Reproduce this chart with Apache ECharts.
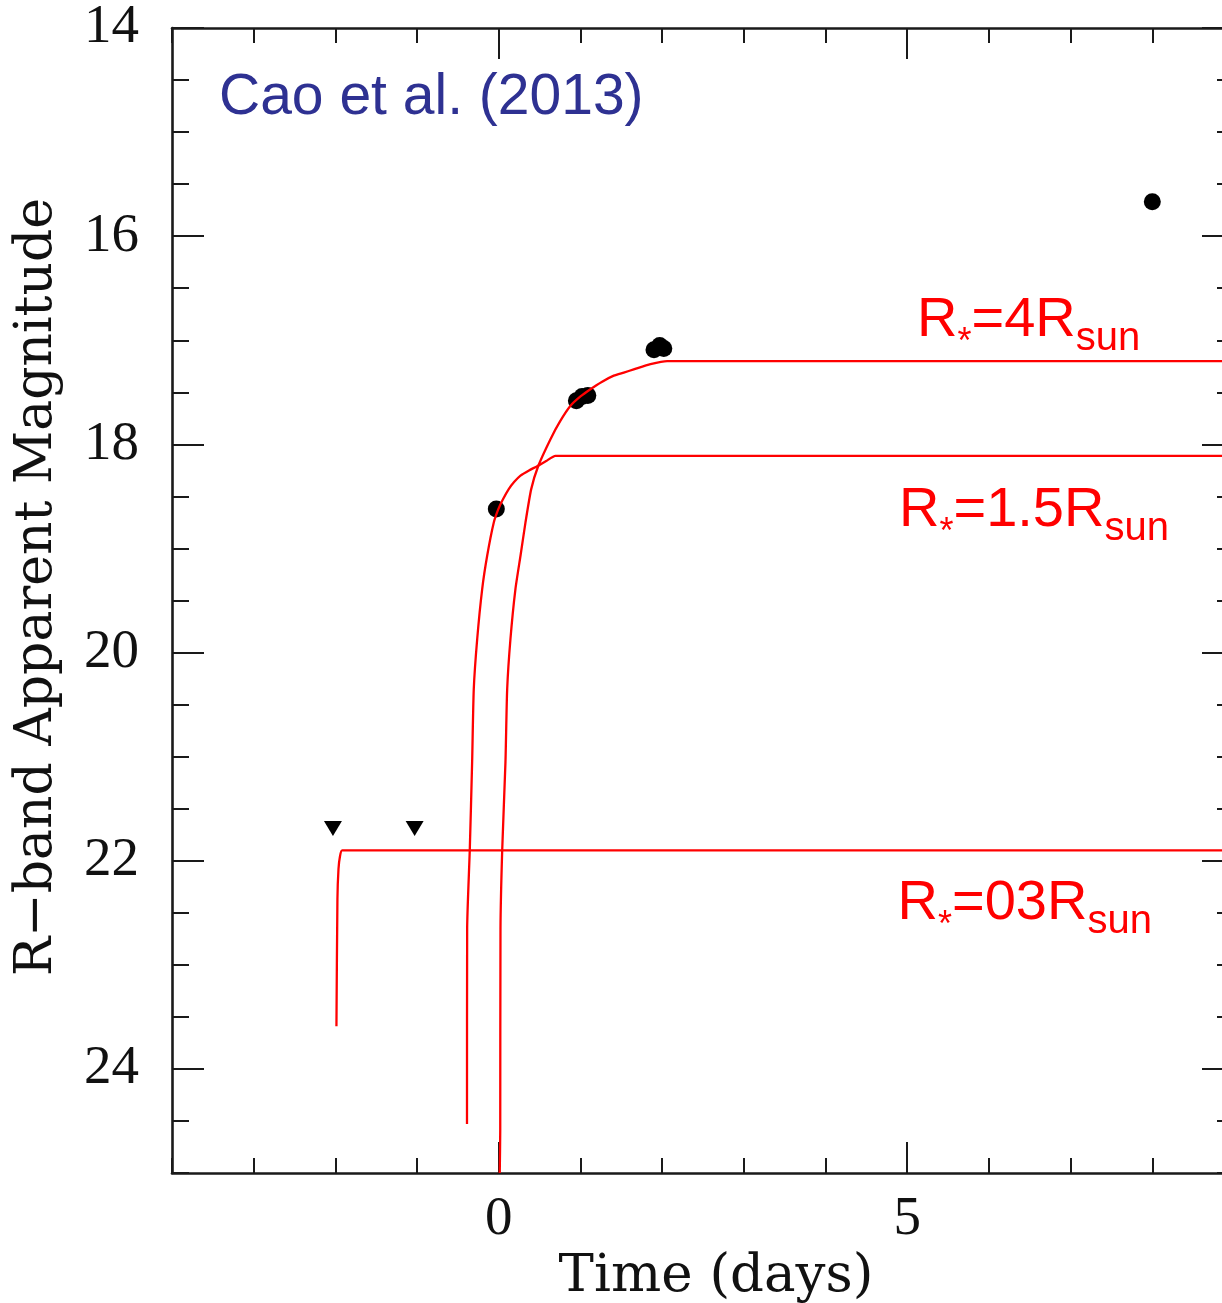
<!DOCTYPE html>
<html><head><meta charset="utf-8">
<script src="https://cdn.jsdelivr.net/npm/echarts@6/dist/echarts.min.js"></script>
<style>html,body{margin:0;padding:0;background:#fff}#c{width:1222px;height:1303px}</style>
</head><body><div id="c"></div>
<script>
// ---- data ----
const obsDays = [-0.03, 0.95, 1.02, 1.09, 1.90, 1.97, 2.02, 8.0];
const obsMag  = [18.62, 17.58, 17.54, 17.53, 17.09, 17.05, 17.08, 15.67];
const ulDays = [-2.03, -1.03];
const ulMag  = [21.69, 21.69];

const m03Days = [-1.987, -1.975, -1.962, -1.944, -1.917, 9];
const m03Mag  = [23.59, 22.37, 22.08, 21.96, 21.90, 21.90];

const m15Days = [-0.389, -0.387, -0.355, -0.326, -0.306, -0.264, -0.203, -0.142, -0.061, -0.004, 0.05, 0.122, 0.19, 0.266, 0.37, 0.470, 0.58, 0.694, 9];
const m15Mag  = [24.53, 22.65, 21.90, 21.05, 20.35, 19.87, 19.39, 19.07, 18.75, 18.62, 18.53, 18.43, 18.36, 18.30, 18.25, 18.21, 18.16, 18.11, 18.11];

const m4Days = [0.012, 0.018, 0.021, 0.042, 0.082, 0.103, 0.143, 0.204, 0.266, 0.327, 0.397, 0.482, 0.633, 0.75, 0.878, 1.0, 1.122, 1.26, 1.408, 1.53, 1.652, 1.857, 2.061, 9];
const m4Mag  = [25.0, 24.59, 22.65, 21.90, 21.05, 20.35, 19.87, 19.39, 19.07, 18.75, 18.43, 18.21, 17.95, 17.78, 17.63, 17.54, 17.47, 17.40, 17.34, 17.31, 17.28, 17.23, 17.20, 17.20];

const xLabelValues = [0, 5];
const xMajorTicks = [0, 5];
const yTickLabels = [14, 16, 18, 20, 22, 24];
const modelLabels = ['4', '1.5', '03'];
const citation = 'Cao et al. (2013)';
const xTitle = 'Time (days)';
const yTitle = 'R\u2212band Apparent Magnitude';

// ---- helpers ----
const zip = (a, b) => a.map((v, i) => [v, b[i]]);
const AX = '#1a1a1a';
const RED = '#ff0000';
const X_MIN = -4, X_MAX = 9, Y_MIN = 14, Y_MAX = 25;
const gridRect = {left: 172, top: 28, right: -12, bottom: 130, outerBoundsMode: 'none'};

function xAx(gridIndex, position, opts) {
  return Object.assign({
    type: 'value', gridIndex, position, min: X_MIN, max: X_MAX,
    axisLine: {show: false, onZero: false},
    splitLine: {show: false},
    axisLabel: {show: false},
    axisTick: {show: true}
  }, opts);
}
function yAx(gridIndex, position, opts) {
  return Object.assign({
    type: 'value', gridIndex, position, min: Y_MIN, max: Y_MAX, inverse: true,
    axisLine: {show: false, onZero: false},
    splitLine: {show: false},
    axisLabel: {show: false},
    axisTick: {show: true}
  }, opts);
}
const lineOn = {show: true, onZero: false, lineStyle: {color: AX, width: 2.6}};
const tickStyle = {color: AX, width: 2};
const tickFont = {fontFamily: 'Liberation Serif', fontSize: 55, color: '#111', fontWeight: 500};

function radiusLabel(x, y, num) {
  return {
    type: 'text', x, y, z: 50,
    style: {
      text: '{b|R}{a|*}{b|=' + num + 'R}{s|sun}',
      align: 'left', verticalAlign: 'top',
      rich: {
        b: {fontSize: 56, fontFamily: 'Liberation Sans', fill: RED, lineHeight: 56, verticalAlign: 'top'},
        a: {fontSize: 36, fontFamily: 'Liberation Sans', fill: RED, lineHeight: 36, verticalAlign: 'top', padding: [32, 0, 0, 0]},
        s: {fontSize: 40, fontFamily: 'Liberation Sans', fill: RED, lineHeight: 40, verticalAlign: 'top', padding: [26, 0, 0, 0]}
      }
    }
  };
}

const lineSeries = (name, d, m) => ({
  type: 'line', name, xAxisIndex: 0, yAxisIndex: 0, data: zip(d, m),
  showSymbol: false, symbol: 'none', smooth: 0.2,
  lineStyle: {color: RED, width: 2.3}, z: 3
});

const chart = echarts.init(document.getElementById('c'), null, {renderer: 'canvas'});
chart.setOption({
  animation: false,
  backgroundColor: '#fff',
  grid: [Object.assign({}, gridRect), Object.assign({}, gridRect)],
  xAxis: [
    xAx(0, 'bottom', {
      axisLine: lineOn,
      axisTick: {show: true, inside: true, length: 31, customValues: xMajorTicks, lineStyle: tickStyle},
      axisLabel: Object.assign({show: true, customValues: xLabelValues, margin: 19}, tickFont)
    }),
    xAx(0, 'top', {
      axisLine: lineOn,
      axisTick: {show: true, inside: true, length: 31, customValues: xMajorTicks, lineStyle: tickStyle}
    }),
    xAx(1, 'bottom', {interval: 1, axisTick: {show: true, inside: true, length: 15, lineStyle: tickStyle}}),
    xAx(1, 'top', {interval: 1, axisTick: {show: true, inside: true, length: 15, lineStyle: tickStyle}})
  ],
  yAxis: [
    yAx(0, 'left', {
      axisLine: lineOn,
      axisTick: {show: true, inside: true, length: 32, customValues: yTickLabels, lineStyle: tickStyle},
      axisLabel: Object.assign({show: true, customValues: yTickLabels, margin: 33}, tickFont)
    }),
    yAx(0, 'right', {
      axisLine: lineOn,
      axisTick: {show: true, inside: true, length: 32, customValues: yTickLabels, lineStyle: tickStyle}
    }),
    yAx(1, 'left', {interval: 0.5, axisTick: {show: true, inside: true, length: 17, lineStyle: tickStyle}}),
    yAx(1, 'right', {interval: 0.5, axisTick: {show: true, inside: true, length: 17, lineStyle: tickStyle}})
  ],
  series: [
    lineSeries('R*=0.3', m03Days, m03Mag),
    lineSeries('R*=1.5', m15Days, m15Mag),
    lineSeries('R*=4', m4Days, m4Mag),
    {type: 'scatter', name: 'obs', xAxisIndex: 0, yAxisIndex: 0, data: zip(obsDays, obsMag),
     symbol: 'circle', symbolSize: 17, itemStyle: {color: '#000', opacity: 1}, z: 2},
    {type: 'scatter', name: 'limits', xAxisIndex: 0, yAxisIndex: 0, data: zip(ulDays, ulMag),
     symbol: 'triangle', symbolRotate: 180, symbolSize: [18, 15], itemStyle: {color: '#000', opacity: 1}, z: 2}
  ],
  graphic: [
    {type: 'text', x: 219, y: 98, z: 50,
     style: {text: citation, fontSize: 57, fontFamily: 'Liberation Sans', fill: '#2E3192', align: 'left', verticalAlign: 'middle'}},
    {type: 'text', x: 716, y: 1277, z: 50,
     style: {text: xTitle, fontSize: 53, fontFamily: 'DejaVu Serif', fill: '#111', align: 'center', verticalAlign: 'middle'}},
    {type: 'text', x: 37, y: 587, rotation: Math.PI / 2, z: 50,
     style: {text: yTitle, fontSize: 52, fontFamily: 'DejaVu Serif', fill: '#111', align: 'center', verticalAlign: 'middle'}},
    radiusLabel(917, 292.6, modelLabels[0]),
    radiusLabel(899, 482.6, modelLabels[1]),
    radiusLabel(897.5, 875.6, modelLabels[2])
  ]
});
</script></body></html>
